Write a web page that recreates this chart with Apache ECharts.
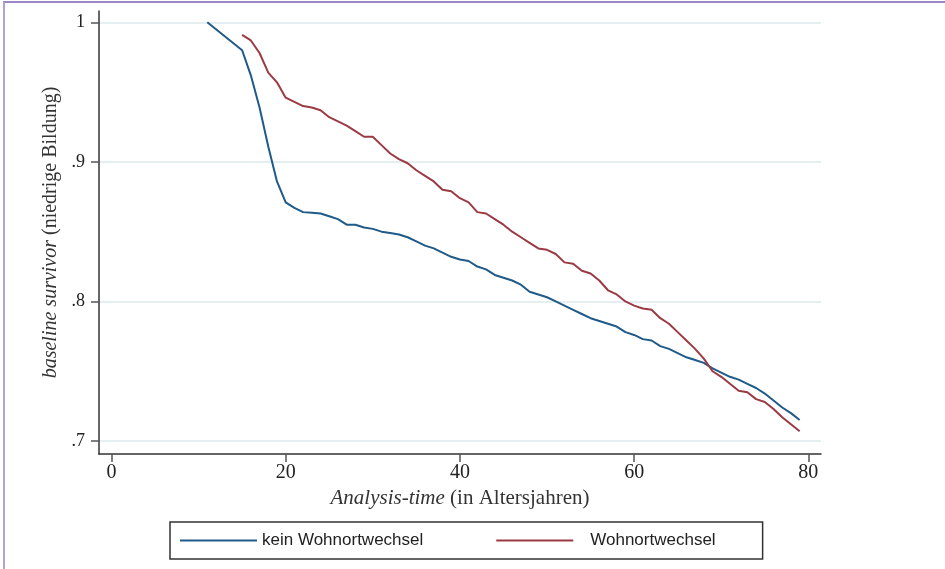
<!DOCTYPE html>
<html>
<head>
<meta charset="utf-8">
<script src="https://cdn.jsdelivr.net/npm/echarts@6/dist/echarts.min.js"></script>
<style>
  html, body { margin: 0; padding: 0; background: #fff; }
  #chart { position: absolute; left: 0; top: 0; width: 945px; height: 569px; }
  #frame {
    position: absolute; left: 3px; top: 1px; width: 945px; height: 569px;
    border-top: 2px solid #9c86c6; border-left: 2px solid #b3a2d4;
    pointer-events: none; box-sizing: border-box;
  }
</style>
</head>
<body>
<div id="chart"></div>
<div id="frame"></div>
<script>
// Baseline survivor function by age (low education), with and without change of residence
const seriesNames = ['kein Wohnortwechsel', 'Wohnortwechsel'];

const ageNoMove = [11, 15, 16, 17, 18, 19, 20, 21, 22, 23, 24, 25, 26, 27, 28, 29, 30,
  31, 32, 33, 34, 35, 36, 37, 38, 39, 40, 41, 42, 43, 44, 45, 46, 47, 48, 49, 50,
  51, 52, 53, 54, 55, 56, 57, 58, 59, 60, 61, 62, 63, 64, 65, 66, 67, 68, 69, 70,
  71, 72, 73, 74, 75, 76, 77, 78, 79];
const survNoMove = [1.000, 0.980, 0.962, 0.939, 0.911, 0.886, 0.871, 0.867, 0.864, 0.8635, 0.863,
  0.861, 0.859, 0.855, 0.855, 0.853, 0.852, 0.850, 0.849, 0.848, 0.846, 0.843, 0.840,
  0.838, 0.835, 0.832, 0.830, 0.829, 0.825, 0.823, 0.819, 0.817, 0.815, 0.812, 0.807,
  0.805, 0.803, 0.800, 0.797, 0.794, 0.791, 0.788, 0.786, 0.784, 0.782, 0.778, 0.776,
  0.773, 0.772, 0.768, 0.766, 0.763, 0.760, 0.758, 0.756, 0.752, 0.749, 0.746, 0.744,
  0.741, 0.738, 0.734, 0.729, 0.724, 0.720, 0.715];

const ageMove = [15, 16, 17, 18, 19, 20, 21, 22, 23, 24, 25, 26, 27, 28, 29, 30,
  31, 32, 33, 34, 35, 36, 37, 38, 39, 40, 41, 42, 43, 44, 45, 46, 47, 48, 49, 50,
  51, 52, 53, 54, 55, 56, 57, 58, 59, 60, 61, 62, 63, 64, 65, 66, 67, 68, 69, 70,
  71, 72, 73, 74, 75, 76, 77, 78, 79];
const survMove = [0.991, 0.987, 0.978, 0.964, 0.957, 0.946, 0.943, 0.940, 0.939, 0.937,
  0.932, 0.929, 0.926, 0.922, 0.918, 0.918, 0.912, 0.906, 0.902, 0.899, 0.894, 0.890,
  0.886, 0.880, 0.879, 0.874, 0.871, 0.864, 0.863, 0.859, 0.855, 0.850, 0.846, 0.842,
  0.838, 0.837, 0.834, 0.828, 0.827, 0.822, 0.820, 0.815, 0.808, 0.805, 0.800, 0.797,
  0.795, 0.794, 0.788, 0.784, 0.778, 0.772, 0.766, 0.759, 0.750, 0.746, 0.741, 0.736,
  0.735, 0.730, 0.728, 0.723, 0.717, 0.712, 0.707];

const xTicks = [0, 20, 40, 60, 80];
const yTicks = [0.7, 0.8, 0.9, 1];

const pairs = (xs, ys) => xs.map((x, i) => [x, ys[i]]);

const serif = '"Liberation Serif", "DejaVu Serif", serif';
const sans = '"Liberation Sans", Arial, sans-serif';

const chart = echarts.init(document.getElementById('chart'), null, { renderer: 'canvas' });

chart.setOption({
  backgroundColor: '#ffffff',
  animation: false,
  grid: { left: 99, top: 11, width: 722, height: 443, containLabel: false },
  xAxis: {
    type: 'value',
    min: -1.43,
    max: 81.45,
    name: '{i|Analysis-time} (in Altersjahren)',
    nameLocation: 'middle',
    nameGap: 31,
    nameTextStyle: {
      fontFamily: serif, fontSize: 21, color: '#333',
      rich: { i: { fontFamily: serif, fontSize: 21, fontStyle: 'italic', color: '#333' } }
    },
    axisLine: { show: true, onZero: false, lineStyle: { color: '#333', width: 1.5 } },
    axisTick: { show: true, customValues: xTicks, length: 8, lineStyle: { color: '#555', width: 1.5 } },
    axisLabel: {
      customValues: xTicks, margin: 9,
      fontFamily: serif, fontSize: 20, color: '#222'
    },
    splitLine: { show: false }
  },
  yAxis: {
    type: 'value',
    min: 0.6907,
    max: 1.0081,
    name: '{i|baseline survivor} (niedrige Bildung)',
    nameLocation: 'middle',
    nameGap: 33,
    nameRotate: 90,
    nameTextStyle: {
      fontFamily: serif, fontSize: 20, color: '#333',
      rich: { i: { fontFamily: serif, fontSize: 20, fontStyle: 'italic', color: '#333' } }
    },
    axisLine: { show: true, onZero: false, lineStyle: { color: '#333', width: 1.5 } },
    axisTick: { show: true, customValues: yTicks, length: 8, lineStyle: { color: '#555', width: 1.5 } },
    axisLabel: {
      customValues: yTicks, margin: 14,
      fontFamily: serif, fontSize: 18, color: '#222',
      formatter: v => (Math.abs(v - 1) < 1e-9 ? '1' : '.' + Math.round(v * 10))
    },
    splitLine: { show: true, lineStyle: { color: '#dde9ec', width: 1.5 } }
  },
  legend: {
    left: 170,
    top: 522,
    orient: 'horizontal',
    icon: 'rect',
    itemWidth: 77,
    itemHeight: 2,
    itemGap: 73,
    padding: [10, 47, 10, 10],
    borderColor: '#333',
    borderWidth: 1.5,
    borderRadius: 0,
    backgroundColor: '#fff',
    textStyle: { fontFamily: sans, fontSize: 17, color: '#222' },
    data: [
      { name: seriesNames[0] },
      { name: seriesNames[1], textStyle: { padding: [0, 0, 0, 12] } }
    ]
  },
  series: [
    {
      name: seriesNames[0],
      type: 'line',
      data: pairs(ageNoMove, survNoMove),
      symbol: 'none',
      color: '#1f5a88',
      lineStyle: { color: '#1f5a88', width: 2 }
    },
    {
      name: seriesNames[1],
      type: 'line',
      data: pairs(ageMove, survMove),
      symbol: 'none',
      color: '#9c3a44',
      lineStyle: { color: '#9c3a44', width: 2 }
    }
  ]
});
</script>
</body>
</html>
